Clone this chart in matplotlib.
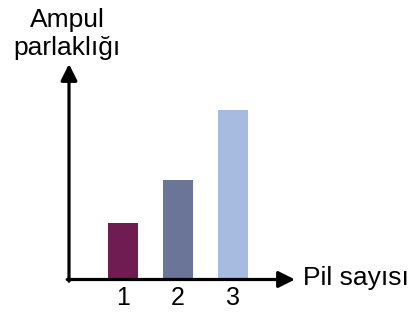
import matplotlib.pyplot as plt

# bar data
pil_sayisi = [1, 2, 3]
parlaklik = [57, 100, 170]
renkler = ['#6E1C51', '#6A7597', '#A7BBE1']
tick_labels = ['1', '2', '3']

W, H = 419, 313
plt.rcParams['font.family'] = ['Liberation Sans', 'DejaVu Sans']

fig = plt.figure(figsize=(W / 100, H / 100), dpi=100)
# axes placed in pixel terms: y axis at x=69, x axis at y=279.5, tips at x=295 / y=64
ax = fig.add_axes([69 / W, (H - 279.5) / H, (295 - 69) / W, (279.5 - 64) / H])
ax.bar(pil_sayisi, parlaklik, width=0.535, color=renkler)
ax.set_xlim(0.025, 4.12)
ax.set_ylim(0, 215.5)

for s in ax.spines.values():
    s.set_visible(False)
ax.set_yticks([])
ax.set_xticks(pil_sayisi)
ax.set_xticklabels(tick_labels, fontsize=18)
ax.tick_params(axis='x', length=0, pad=5)

# axis arrows
arrow = dict(arrowstyle='-|>,head_length=0.9,head_width=0.45', color='black',
             lw=2.3, shrinkA=0, shrinkB=0, mutation_scale=11)
ax.annotate('', xy=(1, 0), xytext=(-0.008, 0), xycoords='axes fraction', arrowprops=arrow)
ax.annotate('', xy=(0, 1), xytext=(0, -0.008), xycoords='axes fraction', arrowprops=arrow)

fig.text(303 / W, 1 - 285 / H, 'Pil sayısı', fontsize=19, ha='left', va='baseline')
fig.text(67 / W, 1 - 27 / H, 'Ampul', fontsize=19, ha='center', va='baseline')
fig.text(67 / W, 1 - 55 / H, 'parlaklığı', fontsize=19, ha='center', va='baseline')

fig.savefig('out.png', dpi=100)
